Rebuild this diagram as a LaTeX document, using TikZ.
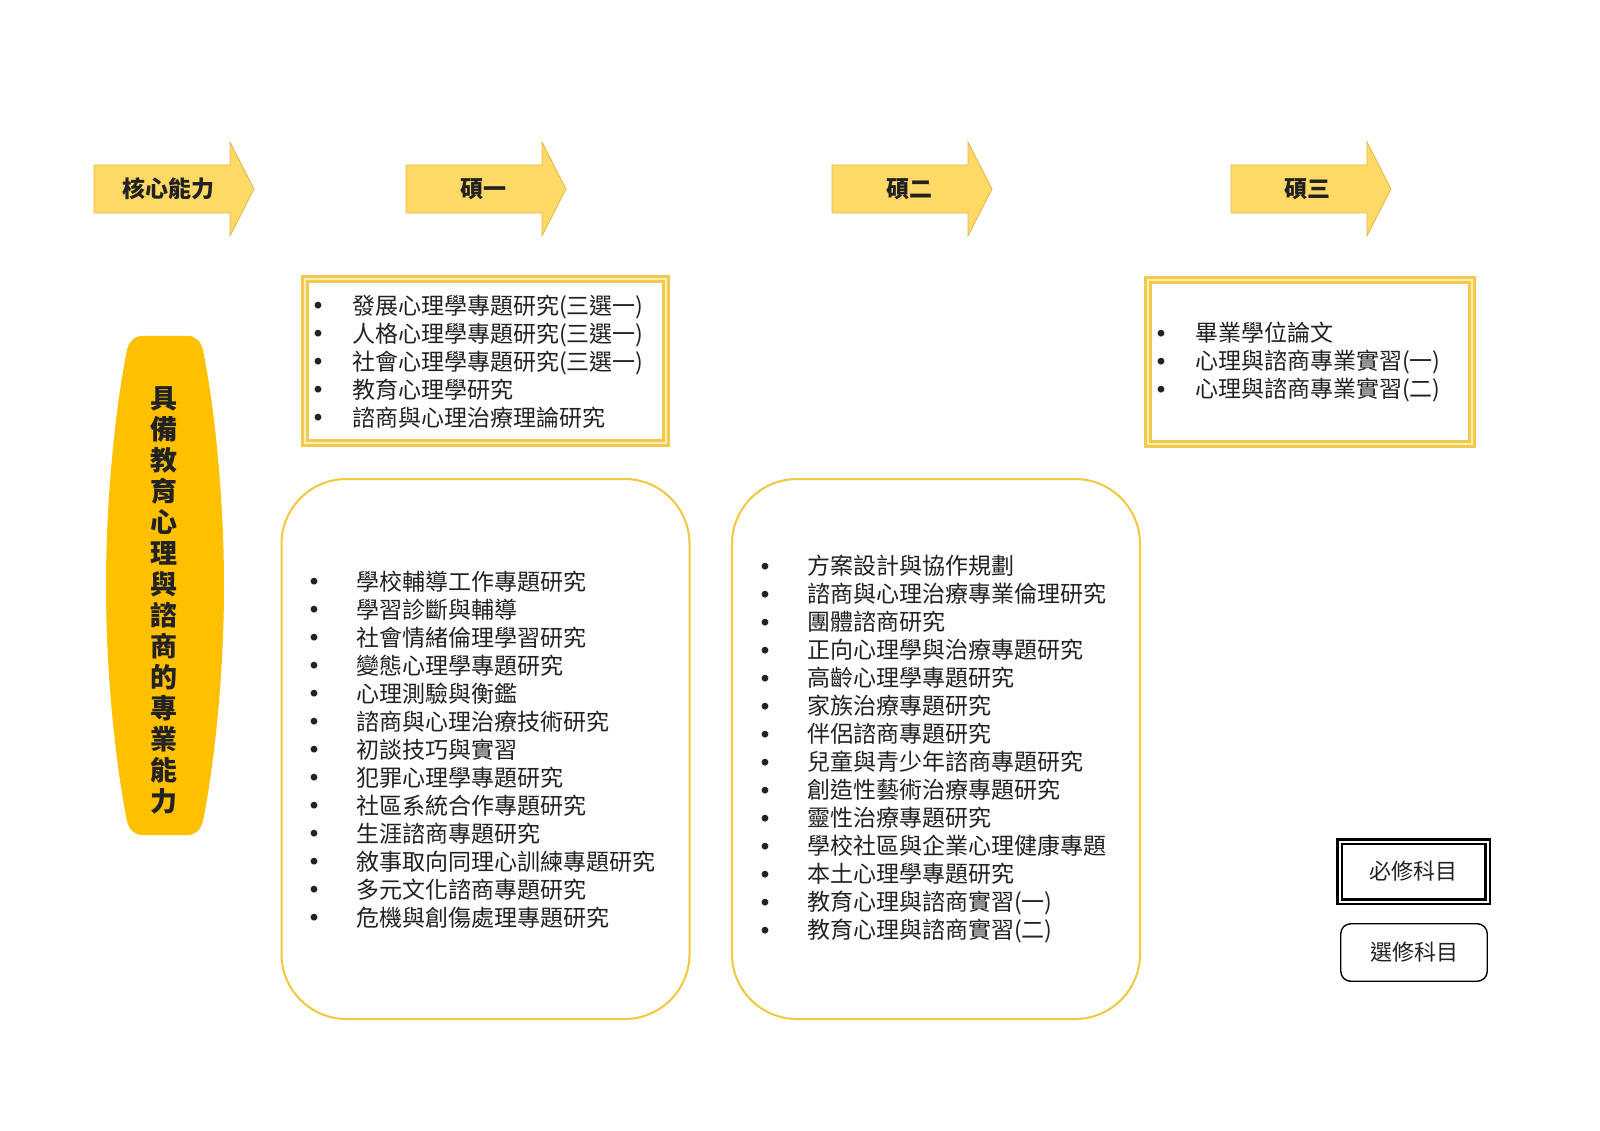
\documentclass[tikz,border=0pt]{standalone}
\usepackage{fontspec}
\setmainfont{Noto Sans CJK TC}
\definecolor{arrowfill}{HTML}{FFD966}
\definecolor{arrowline}{HTML}{E2B84C}
\definecolor{goldline}{HTML}{F2C94C}
\definecolor{paleline}{HTML}{FCEFB4}
\definecolor{roundline}{HTML}{F3C73F}
\definecolor{capsule}{HTML}{FFC000}
\definecolor{txt}{HTML}{222222}
\newcommand\myli[2]{\makebox[0pt]{\raisebox{5.3pt}{\fontsize{7.5pt}{8pt}\selectfont ●}}\hspace{#1}#2}
\begin{document}
\begin{tikzpicture}[x=1pt,y=-1pt,
  yarrow/.style={fill=arrowfill,draw=arrowline,line width=0.8pt},
  arrowlabel/.style={font=\fontsize{23pt}{28pt}\selectfont\bfseries,text=txt,inner sep=0pt},
  dblbox/.style={draw=goldline,double=paleline,double distance=2pt,line width=3pt,inner sep=0pt},
  roundbox/.style={draw=roundline,line width=2pt,rounded corners=65pt,inner sep=0pt},
  listnode/.style={anchor=west,align=left,inner sep=0pt,text=txt,font=\fontsize{23pt}{28pt}\selectfont},
  legendtext/.style={font=\fontsize{22pt}{26pt}\selectfont,text=txt,inner sep=0pt}]
\useasboundingbox (0,0) rectangle (1600,1131);
\fill[white] (0,0) rectangle (1600,1131);

% header arrows
\foreach \L/\nm/\lbl/\dx in {94/core/核心能力/74, 406/yearone/碩一/77, 832/yeartwo/碩二/77, 1231/yearthree/碩三/76} {
  \draw[yarrow] (\L,165) -- (\L+136,165) -- (\L+136,142) -- (\L+160,189) -- (\L+136,236) -- (\L+136,213) -- (\L,213) -- cycle;
  \node[arrowlabel] (\nm) at (\L+\dx,189) {\lbl};
}

% capsule
\fill[capsule] (142,336) -- (188,336)
  .. controls (196,336) and (201,342) .. (203,350)
  .. controls (215,410) and (224,500) .. (224,585.5)
  .. controls (224,671) and (215,761) .. (203,821)
  .. controls (201,829) and (196,835) .. (188,835)
  -- (142,835)
  .. controls (134,835) and (129,829) .. (127,821)
  .. controls (115,761) and (106,671) .. (106,585.5)
  .. controls (106,500) and (115,410) .. (127,350)
  .. controls (129,342) and (134,336) .. (142,336) -- cycle;
\node[align=center,inner sep=0pt,text=txt,font=\fontsize{27pt}{31pt}\selectfont\bfseries] (competence) at (164,600)
  {具\\備\\教\\育\\心\\理\\與\\諮\\商\\的\\專\\業\\能\\力};

% required boxes (double gold border)
\node[dblbox,minimum width=361pt,minimum height=164pt] (reqone) at (485.5,361) {};
\node[listnode] (reqonelist) at (318,361.5) {%
\myli{34pt}{發展心理學專題研究(三選一)}\\
\myli{34pt}{人格心理學專題研究(三選一)}\\
\myli{34pt}{社會心理學專題研究(三選一)}\\
\myli{34pt}{教育心理學研究}\\
\myli{34pt}{諮商與心理治療理論研究}};

\node[dblbox,minimum width=324pt,minimum height=164pt] (reqthree) at (1310,362) {};
\node[listnode] (reqthreelist) at (1161,362) {%
\myli{34pt}{畢業學位論文}\\
\myli{34pt}{心理與諮商專業實習(一)}\\
\myli{34pt}{心理與諮商專業實習(二)}};

% elective boxes (rounded)
\node[roundbox,minimum width=408pt,minimum height=540pt] (electone) at (485.5,749) {};
\node[listnode] (electonelist) at (314,749.5) {%
\myli{42pt}{學校輔導工作專題研究}\\
\myli{42pt}{學習診斷與輔導}\\
\myli{42pt}{社會情緒倫理學習研究}\\
\myli{42pt}{變態心理學專題研究}\\
\myli{42pt}{心理測驗與衡鑑}\\
\myli{42pt}{諮商與心理治療技術研究}\\
\myli{42pt}{初談技巧與實習}\\
\myli{42pt}{犯罪心理學專題研究}\\
\myli{42pt}{社區系統合作專題研究}\\
\myli{42pt}{生涯諮商專題研究}\\
\myli{42pt}{敘事取向同理心訓練專題研究}\\
\myli{42pt}{多元文化諮商專題研究}\\
\myli{42pt}{危機與創傷處理專題研究}};

\node[roundbox,minimum width=408pt,minimum height=540pt] (electtwo) at (936,749) {};
\node[listnode] (electtwolist) at (765,749) {%
\myli{42pt}{方案設計與協作規劃}\\
\myli{42pt}{諮商與心理治療專業倫理研究}\\
\myli{42pt}{團體諮商研究}\\
\myli{42pt}{正向心理學與治療專題研究}\\
\myli{42pt}{高齡心理學專題研究}\\
\myli{42pt}{家族治療專題研究}\\
\myli{42pt}{伴侶諮商專題研究}\\
\myli{42pt}{兒童與青少年諮商專題研究}\\
\myli{42pt}{創造性藝術治療專題研究}\\
\myli{42pt}{靈性治療專題研究}\\
\myli{42pt}{學校社區與企業心理健康專題}\\
\myli{42pt}{本土心理學專題研究}\\
\myli{42pt}{教育心理與諮商實習(一)}\\
\myli{42pt}{教育心理與諮商實習(二)}};

% legend
\node[draw=black,double=white,double distance=2pt,line width=2.3pt,inner sep=0pt,
      minimum width=148pt,minimum height=60pt] (legreq) at (1413.5,871.5) {};
\node[legendtext] (legreqtext) at (legreq.center) {必修科目};
\node[draw=black,line width=1.4pt,rounded corners=10pt,inner sep=0pt,
      minimum width=146.5pt,minimum height=57.5pt] (legel) at (1414,952.5) {};
\node[legendtext] (legeltext) at (legel.center) {選修科目};
\end{tikzpicture}
\end{document}
